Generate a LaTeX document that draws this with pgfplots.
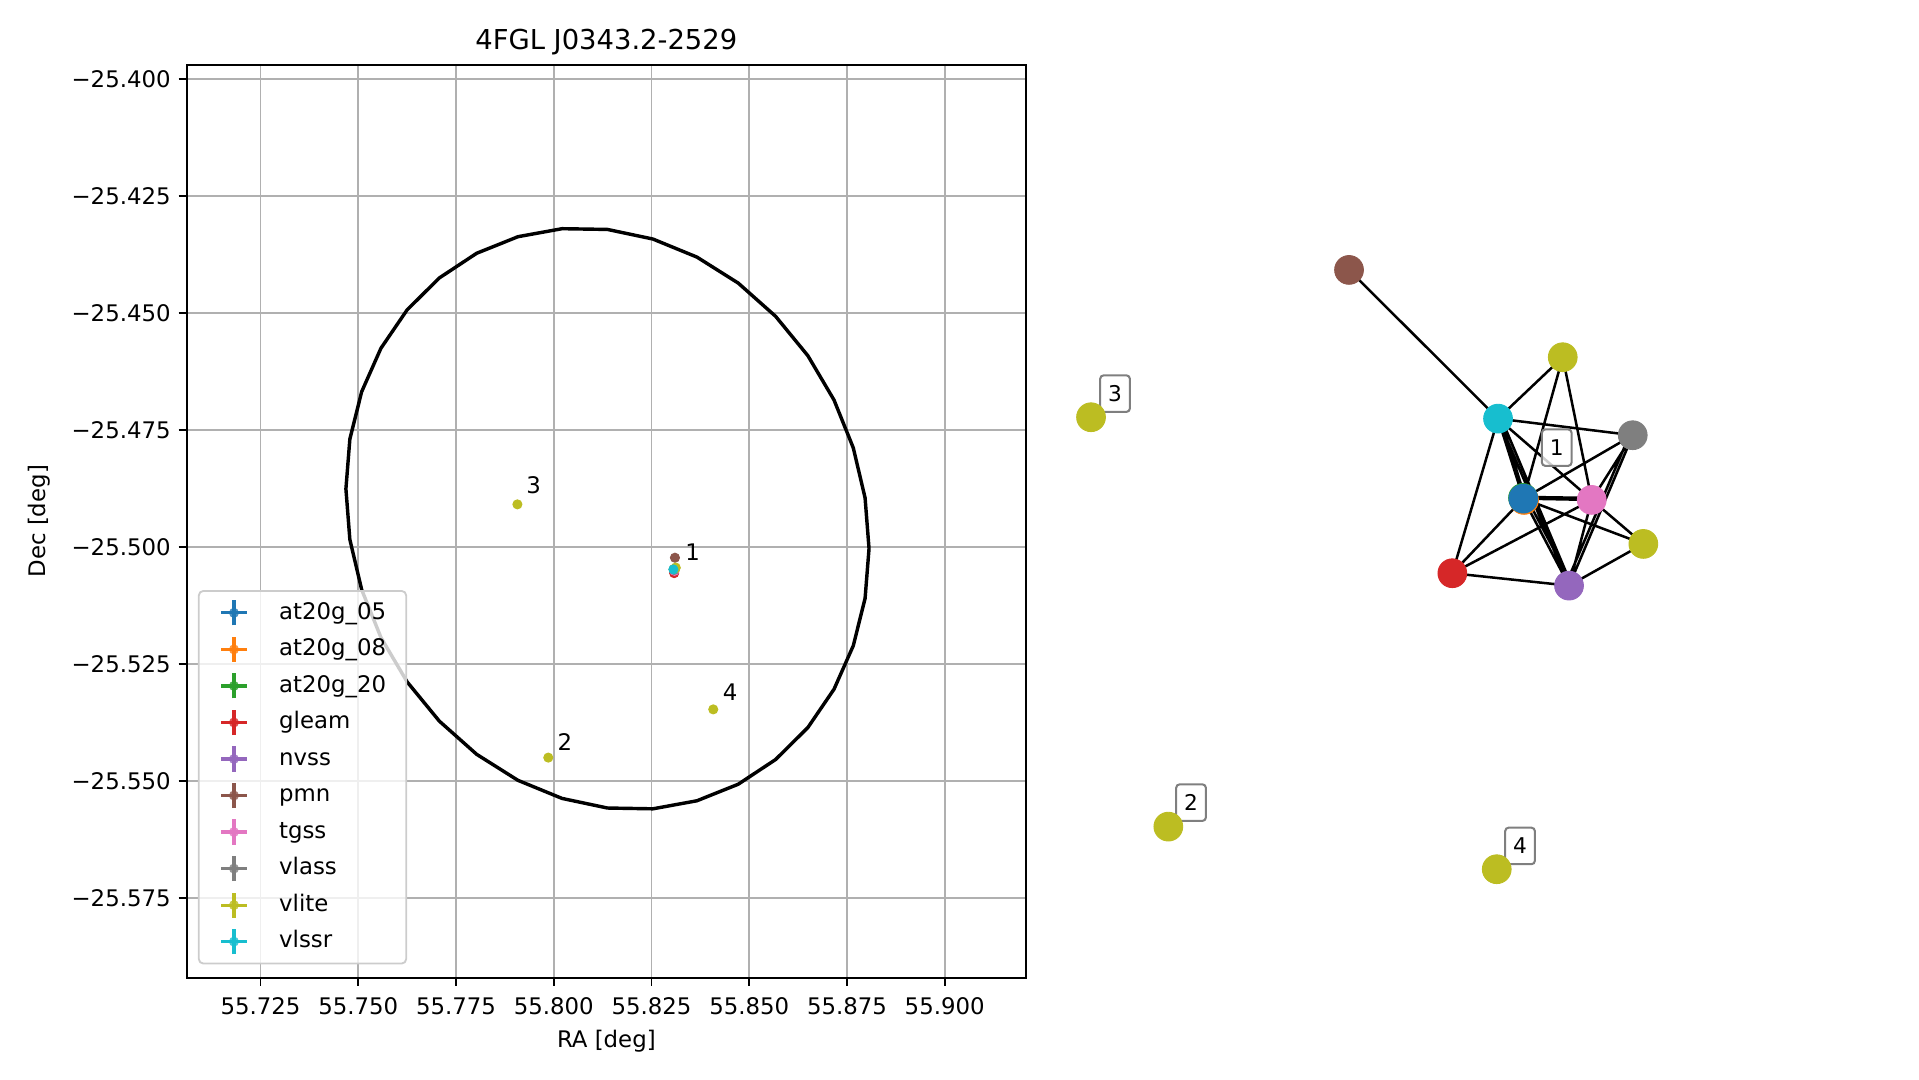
\documentclass[border=0pt]{standalone}
\usepackage{fontspec}
\setmainfont{DejaVu Sans}
\usepackage{pgfplots}
\pgfplotsset{compat=1.18}
\definecolor{c0}{HTML}{1F77B4}
\definecolor{c1}{HTML}{FF7F0E}
\definecolor{c2}{HTML}{2CA02C}
\definecolor{c3}{HTML}{D62728}
\definecolor{c4}{HTML}{9467BD}
\definecolor{c5}{HTML}{8C564B}
\definecolor{c6}{HTML}{E377C2}
\definecolor{c7}{HTML}{7F7F7F}
\definecolor{c8}{HTML}{BCBD22}
\definecolor{c9}{HTML}{17BECF}
\definecolor{gridgray}{HTML}{B0B0B0}
\definecolor{legedge}{HTML}{CCCCCC}
\begin{document}
\begin{tikzpicture}
\path[use as bounding box] (0,0) rectangle (840.5pt,473pt);
\begin{axis}[
  at={(81.77pt,44.81pt)}, anchor=south west,
  scale only axis, width=367.6pt, height=399.8pt,
  xmin=55.7061, xmax=55.9208, ymin=-25.592, ymax=-25.397,
  axis line style={line width=0.8pt},
  xtick={55.725,55.75,55.775,55.8,55.825,55.85,55.875,55.9},
  xticklabels={55.725,55.750,55.775,55.800,55.825,55.850,55.875,55.900},
  ytick={-25.575,-25.55,-25.525,-25.5,-25.475,-25.45,-25.425,-25.4},
  yticklabels={−25.575,−25.550,−25.525,−25.500,−25.475,−25.450,−25.425,−25.400},
  tick align=outside, xtick pos=left, ytick pos=left,
  major tick length=3.5pt,
  tick style={black, line width=0.8pt},
  grid=major, grid style={color=gridgray, line width=0.8pt},
  ticklabel style={font=\fontsize{10}{12}\selectfont},
  xticklabel style={yshift=-1.9pt},
  title={4FGL J0343.2-2529},
  title style={font=\fontsize{12}{14}\selectfont, at={(axis description cs:0.5,1)}, anchor=base, yshift=0.6pt, inner sep=0pt},
  xlabel={RA [deg]},
  xlabel style={font=\fontsize{10}{12}\selectfont, at={(axis description cs:0.5,-0.0763)}, anchor=base, inner sep=0pt},
  ylabel={Dec [deg]},
  ylabel style={font=\fontsize{10}{12}\selectfont, at={(axis description cs:-0.1687,0.5)}, anchor=base, rotate=0, inner sep=0pt},
  clip=false,
  legend cell align=left,
  legend style={at={(axis cs:55.70896,-25.5092)}, anchor=north west,
    draw=legedge, line width=0.8pt, fill=white, fill opacity=0.8, text opacity=1,
    rounded corners=2pt, font=\fontsize{10}{12}\selectfont,
    inner xsep=8.8pt, inner ysep=3.4pt, row sep=3.6pt, column sep=0pt,
    nodes={inner sep=0pt, text height=7.5pt, text depth=2pt}},
  legend image code/.code={
    \draw[line width=1.4pt, solid, sharp corners] (1.1pt,0pt) -- (12.1pt,0pt);
    \draw[line width=1.4pt, solid, sharp corners] (6.6pt,-5.5pt) -- (6.6pt,5.5pt);
    \fill[draw=none] (6.6pt,0pt) circle (2.2pt);
    \path[draw=none, fill=none] (0pt,0pt) -- (26.4pt,0pt);
  },
]
% 4FGL 95% ellipse
\addplot[black, line width=1.5pt, line join=round, forget plot] coordinates {
(55.88065,-25.50035) (55.87964,-25.48952) (55.87662,-25.47883) (55.87169,-25.46860)
(55.86500,-25.45914) (55.85675,-25.45073) (55.84720,-25.44364) (55.83663,-25.43808)
(55.82536,-25.43422) (55.81374,-25.43217) (55.80212,-25.43201) (55.79085,-25.43372)
(55.78028,-25.43726) (55.77073,-25.44253) (55.76248,-25.44936) (55.75579,-25.45755)
(55.75086,-25.46684) (55.74784,-25.47696) (55.74683,-25.48759) (55.74784,-25.49842)
(55.75086,-25.50911) (55.75579,-25.51934) (55.76248,-25.52881) (55.77073,-25.53721)
(55.78028,-25.54430) (55.79085,-25.54986) (55.80212,-25.55372) (55.81374,-25.55577)
(55.82536,-25.55594) (55.83663,-25.55422) (55.84720,-25.55068) (55.85675,-25.54541)
(55.86500,-25.53858) (55.87169,-25.53039) (55.87662,-25.52110) (55.87964,-25.51098)
(55.88065,-25.50035)};
\addplot[c0, only marks, mark=*, mark size=2pt, mark options={draw=c0, fill=c0}] coordinates {(55.8307,-25.5048)};
\addlegendentry{at20g\_05}
\addplot[c1, only marks, mark=*, mark size=2pt, mark options={draw=c1, fill=c1}] coordinates {(55.8307,-25.5048)};
\addlegendentry{at20g\_08}
\addplot[c2, only marks, mark=*, mark size=2pt, mark options={draw=c2, fill=c2}] coordinates {(55.8307,-25.5048)};
\addlegendentry{at20g\_20}
\addplot[c3, only marks, mark=*, mark size=2pt, mark options={draw=c3, fill=c3}] coordinates {(55.8308,-25.5056)};
\addlegendentry{gleam}
\addplot[c4, only marks, mark=*, mark size=2pt, mark options={draw=c4, fill=c4}] coordinates {(55.8308,-25.5050)};
\addlegendentry{nvss}
\addplot[c5, only marks, mark=*, mark size=2pt, mark options={draw=c5, fill=c5}] coordinates {(55.8310,-25.5023)};
\addlegendentry{pmn}
\addplot[c6, only marks, mark=*, mark size=2pt, mark options={draw=c6, fill=c6}] coordinates {(55.8309,-25.5051)};
\addlegendentry{tgss}
\addplot[c7, only marks, mark=*, mark size=2pt, mark options={draw=c7, fill=c7}] coordinates {(55.8308,-25.5049)};
\addlegendentry{vlass}
\addplot[c8, only marks, mark=*, mark size=2pt, mark options={draw=c8, fill=c8}] coordinates {(55.8312,-25.5044) (55.8311,-25.5046) (55.7986,-25.5450) (55.7907,-25.4909) (55.8408,-25.5347)};
\addlegendentry{vlite}
\addplot[c9, only marks, mark=*, mark size=2pt, mark options={draw=c9, fill=c9}] coordinates {(55.8306,-25.5048)};
\addlegendentry{vlssr}
\node[anchor=base west, inner sep=0pt, font=\fontsize{10}{12}\selectfont] at (axis cs:55.83357,-25.50284) {1};
\node[anchor=base west, inner sep=0pt, font=\fontsize{10}{12}\selectfont] at (axis cs:55.80090,-25.54348) {2};
\node[anchor=base west, inner sep=0pt, font=\fontsize{10}{12}\selectfont] at (axis cs:55.79289,-25.48858) {3};
\node[anchor=base west, inner sep=0pt, font=\fontsize{10}{12}\selectfont] at (axis cs:55.84312,-25.53272) {4};
\end{axis}
% right panel: association graph (layout positions)
\begin{axis}[
  at={(459.9pt,78.84pt)}, anchor=south west,
  scale only axis, width=284.7pt, height=293.46pt,
  xmin=1050, xmax=1700, ymin=230, ymax=900, y dir=reverse,
  axis lines=none, clip=false,
]
\addplot[black, line width=1.1pt, unbounded coords=jump] coordinates {
(1349,270) (1498,418.7) (nan,nan)
(1498,418.7) (1562.7,357.3) (nan,nan)
(1498,418.7) (1632.7,435.3) (nan,nan)
(1498,418.7) (1523.3,498.7) (nan,nan)
(1501,420) (1526,501) (nan,nan)
(1498,418.7) (1569,585.7) (nan,nan)
(1501,418) (1571,584) (nan,nan)
(1498,418.7) (1591.7,500) (nan,nan)
(1498,418.7) (1452.3,573.3) (nan,nan)
(1562.7,357.3) (1523.3,498.7) (nan,nan)
(1562.7,357.3) (1591.7,500) (nan,nan)
(1632.7,435.3) (1523.3,498.7) (nan,nan)
(1632.7,435.3) (1591.7,500) (nan,nan)
(1632.7,435.3) (1569,585.7) (nan,nan)
(1630,434) (1566,584) (nan,nan)
(1523.3,498.7) (1591.7,500) (nan,nan)
(1523.3,497) (1591.7,498) (nan,nan)
(1523.3,498.7) (1643.3,544) (nan,nan)
(1523.3,498.7) (1569,585.7) (nan,nan)
(1526,497) (1572,584) (nan,nan)
(1523.3,498.7) (1452.3,573.3) (nan,nan)
(1591.7,500) (1452.3,573.3) (nan,nan)
(1591.7,500) (1643.3,544) (nan,nan)
(1591.7,500) (1569,585.7) (nan,nan)
(1452.3,573.3) (1569,585.7) (nan,nan)
(1569,585.7) (1643.3,544)
};
\addplot[c1, only marks, mark=*, mark size=6.3pt, mark options={draw=c1, fill=c1}] coordinates {(1524,500)};
\addplot[c2, only marks, mark=*, mark size=6.3pt, mark options={draw=c2, fill=c2}] coordinates {(1523,498)};
\addplot[c0, only marks, mark=*, mark size=6.3pt, mark options={draw=c0, fill=c0}] coordinates {(1523.3,498.7)};
\addplot[c3, only marks, mark=*, mark size=6.3pt, mark options={draw=c3, fill=c3}] coordinates {(1452.3,573.3)};
\addplot[c4, only marks, mark=*, mark size=6.3pt, mark options={draw=c4, fill=c4}] coordinates {(1569,585.7)};
\addplot[c5, only marks, mark=*, mark size=6.3pt, mark options={draw=c5, fill=c5}] coordinates {(1349,270)};
\addplot[c6, only marks, mark=*, mark size=6.3pt, mark options={draw=c6, fill=c6}] coordinates {(1591.7,500)};
\addplot[c7, only marks, mark=*, mark size=6.3pt, mark options={draw=c7, fill=c7}] coordinates {(1632.7,435.3)};
\addplot[c8, only marks, mark=*, mark size=6.3pt, mark options={draw=c8, fill=c8}] coordinates {(1562.7,357.3) (1643.3,544) (1168.3,826.7) (1091,417.3) (1496.7,869.3)};
\addplot[c9, only marks, mark=*, mark size=6.3pt, mark options={draw=c9, fill=c9}] coordinates {(1498,418.7)};
\tikzset{lbox/.style={draw=c7, line width=0.9pt, fill=white, fill opacity=0.8, text opacity=1, rounded corners=1.5pt, minimum width=13pt, minimum height=16pt, inner sep=0pt, font=\fontsize{9.5}{11}\selectfont}}
\node[lbox] at (axis cs:1556.7,447.7) {1};
\node[lbox] at (axis cs:1191,802.7) {2};
\node[lbox] at (axis cs:1115,393.7) {3};
\node[lbox] at (axis cs:1520,846) {4};
\end{axis}
\end{tikzpicture}
\end{document}
